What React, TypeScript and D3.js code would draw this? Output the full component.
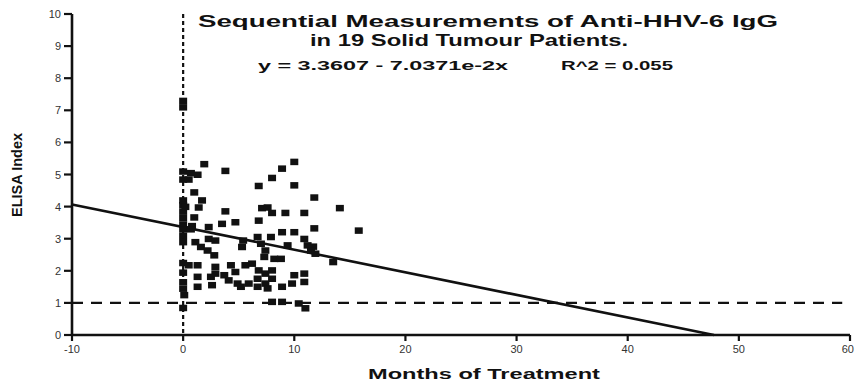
import React from "react";
import * as d3 from "d3";

// Sequential anti-HHV-6 IgG measurements (months of treatment vs ELISA index)
const months: number[] = [
  0, 0, 0, 0, 0, 0, 0, 0, 0, 0, 0, 0, 0, 0, 0, 0, 0,
  0.7, 0.5, 1.0, 1.7, 0.2, 1.4, 1.0, 0.8, 0.7, 2.3, 1.1, 2.3, 2.9, 1.6, 2.2, 2.8,
  0.5, 1.3, 2.9, 2.9, 3.7, 1.3, 2.5, 1.3, 2.6, 1.3, 1.9, 3.8, 3.8, 3.5, 4.7, 4.3,
  4.7, 4.1, 4.9, 5.2, 5.4, 5.3, 5.6, 6.2, 5.9, 6.7, 6.7, 6.8, 6.7, 7.0, 6.8, 7.1,
  6.8, 8.0, 8.9, 10.0, 10.0, 11.8, 14.1, 7.6, 8.0, 9.2, 10.9, 11.8, 8.9, 10.0, 15.8,
  7.9, 10.9, 9.4, 11.2, 11.7, 11.5, 11.9, 13.5, 7.4, 7.3, 8.2, 8.8, 7.4, 7.4, 8.0,
  8.0, 10.0, 10.9, 10.9, 9.8, 8.9, 7.6, 8.0, 8.9, 10.4, 11.0, 0.1,
];
const elisa: number[] = [
  7.3, 7.1, 5.1, 4.85, 4.2, 4.05, 3.85, 3.65, 3.45, 3.3, 3.1, 2.9, 2.25, 1.95, 1.65, 1.45, 0.85,
  5.05, 4.85, 4.45, 4.2, 4.0, 3.98, 3.67, 3.4, 3.3, 3.37, 2.9, 3.0, 2.95, 2.75, 2.64, 2.49,
  2.18, 2.18, 2.13, 1.92, 1.87, 1.82, 1.82, 1.51, 1.56, 5.0, 5.33, 5.12, 3.86, 3.47, 3.52, 2.18,
  1.97, 1.71, 1.61, 1.51, 2.95, 2.75, 2.18, 2.23, 1.61, 1.76, 1.51, 2.02, 3.06, 2.85, 3.57, 3.96,
  4.65, 4.9, 5.19, 5.4, 4.67, 4.29, 3.96, 3.98, 3.81, 3.81, 3.81, 3.33, 3.21, 3.21, 3.26,
  3.06, 3.0, 2.8, 2.8, 2.76, 2.64, 2.54, 2.28, 2.64, 2.44, 2.38, 2.38, 1.92, 1.61, 2.02,
  1.76, 1.87, 1.92, 1.66, 1.61, 1.51, 1.46, 1.04, 1.04, 0.99, 0.84, 1.25,
];

const xTicks: number[] = [-10, 0, 10, 20, 30, 40, 50, 60];
const yTicks: number[] = [0, 1, 2, 3, 4, 5, 6, 7, 8, 9, 10];

// Linear fit: y = a + b x
const intercept = 3.3607;
const slope = -7.0371e-2;
const threshold = 1;

const titleLines: string[] = [
  "Sequential Measurements of Anti-HHV-6 IgG",
  "in 19 Solid Tumour Patients.",
];
const equationText = "y = 3.3607 - 7.0371e-2x";
const rsqText = "R^2 = 0.055";

const W = 855;
const H = 384;
const margin = { left: 72, right: 5, top: 14, bottom: 49 };

export default function App() {
  const x = d3.scaleLinear().domain([-10, 60]).range([margin.left, W - margin.right]);
  const y = d3.scaleLinear().domain([0, 10]).range([H - margin.bottom, margin.top]);

  const xEnd = -intercept / slope;
  const fitLine = d3.line<number>()
    .x((d) => x(d))
    .y((d) => y(intercept + slope * d))([-10, xEnd]);

  const points = months.map((m, i) => ({ m, v: elisa[i] }));
  const font = "'Liberation Sans', Arial, Helvetica, sans-serif";

  return (
    <svg
      width={W}
      height={H}
      style={{ position: "absolute", left: 0, top: 0, background: "#fff" }}
      fontFamily={font}
    >
      <rect width={W} height={H} fill="#fff" />

      {/* title */}
      <text x={198} y={27} fontSize={17} fontWeight="bold"
        textLength={580} lengthAdjust="spacingAndGlyphs" fill="#111">{titleLines[0]}</text>
      <text x={310} y={46} fontSize={17} fontWeight="bold"
        textLength={318} lengthAdjust="spacingAndGlyphs" fill="#111">{titleLines[1]}</text>
      <text x={258} y={70} fontSize={13} fontWeight="bold" textLength={250}
        lengthAdjust="spacingAndGlyphs" fill="#111">{equationText}</text>
      <text x={561} y={70} fontSize={13} fontWeight="bold" textLength={112}
        lengthAdjust="spacingAndGlyphs" fill="#111">{rsqText}</text>

      {/* vertical reference at start of treatment */}
      <line x1={x(0)} x2={x(0)} y1={y(10)} y2={y(0)} stroke="#111" strokeWidth={2.2}
        strokeDasharray="4,3" />

      {/* threshold line */}
      <line x1={x(-10)} x2={x(59.3)} y1={y(threshold)} y2={y(threshold)} stroke="#111"
        strokeWidth={2.2} strokeDasharray="11,8" />

      {/* regression line */}
      <path d={fitLine ?? ""} fill="none" stroke="#111" strokeWidth={2.6} />

      {/* data */}
      {points.map((p, i) => (
        <rect key={i} x={x(p.m) - 4} y={y(p.v) - 3} width={8} height={6.5} fill="#111" />
      ))}

      {/* axes */}
      <line x1={x(-10)} x2={x(-10)} y1={y(0) + 1} y2={y(10)} stroke="#111" strokeWidth={2.6} />
      <line x1={x(-10) - 1} x2={x(60)} y1={y(0)} y2={y(0)} stroke="#111" strokeWidth={2.6} />
      {yTicks.map((t) => (
        <g key={t}>
          <line x1={x(-10) - 8} x2={x(-10)} y1={y(t)} y2={y(t)} stroke="#111" strokeWidth={2.2} />
          <text x={x(-10) - 11} y={y(t) + 4} textAnchor="end" fontSize={11} fill="#333">{t}</text>
        </g>
      ))}
      {xTicks.map((t) => (
        <g key={t}>
          <line x1={x(t)} x2={x(t)} y1={y(0)} y2={y(0) + 6} stroke="#111" strokeWidth={2.2} />
          <text x={t === 60 ? W - 1 : x(t)} y={y(0) + 18} textAnchor={t === 60 ? "end" : "middle"}
            fontSize={11} fill="#333">{t}</text>
        </g>
      ))}

      {/* axis titles */}
      <text x={368} y={379} fontSize={15} fontWeight="bold"
        textLength={232} lengthAdjust="spacingAndGlyphs" fill="#111">Months of Treatment</text>
      <text transform={`translate(22,175) rotate(-90)`} textAnchor="middle" fontSize={14}
        fontWeight="bold" textLength={84} lengthAdjust="spacingAndGlyphs" fill="#111">ELISA Index</text>
    </svg>
  );
}
